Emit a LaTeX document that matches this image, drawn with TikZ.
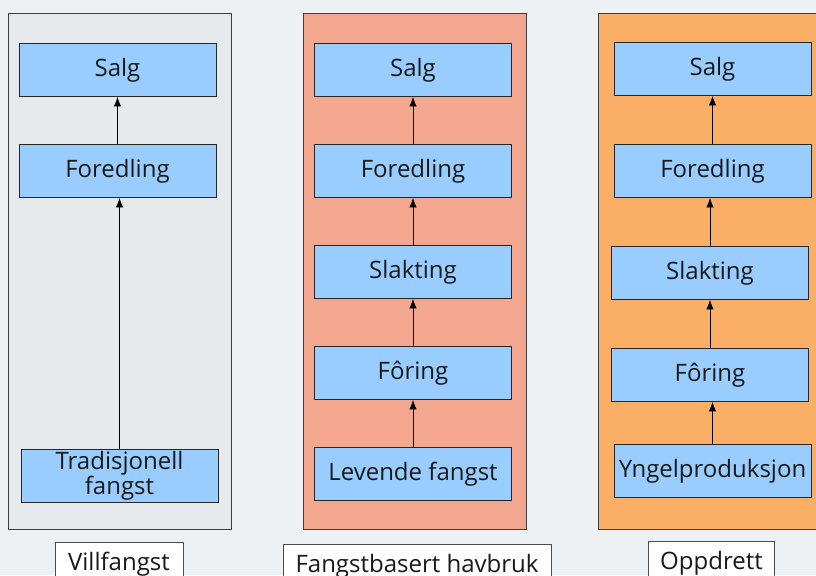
\documentclass[tikz,border=0pt]{standalone}
\usepackage{fontspec}
\setmainfont{Open Sans}
\usetikzlibrary{shapes,arrows.meta}
\definecolor{bakgrunn}{HTML}{EDF1F3}
\definecolor{villgraa}{HTML}{E6EAED}
\definecolor{laks}{HTML}{F4A78F}
\definecolor{oransje}{HTML}{FBAE66}
\definecolor{blaa}{HTML}{99CCFF}
\newcommand{\ledd}[3] {\node at (#1) (#2) [ledd] {#3};}
\newcommand{\pil}[2] {\draw [-{Latex[length=7pt,width=5.5pt]}] (#1.north) -- (#1.north |- #2.south);}
\newcommand{\feltnavn}[4] {\node at (#1) (#2) [feltnavn, minimum width=#3] {#4};}

\begin{document}
\begin{tikzpicture}[x=0.75pt,y=-0.75pt,
  ledd/.style={rectangle, draw=black!85, fill=blaa, line width=0.75pt,
    minimum width=147.75pt, minimum height=39.75pt, inner sep=0pt,
    align=center, text=black!90, font=\fontsize{18}{17}\selectfont},
  feltnavn/.style={rectangle, draw=black!70, fill=white, line width=0.6pt,
    minimum height=33pt, inner sep=0pt, text=black!90,
    font=\fontsize{18}{17}\selectfont},
  felt/.style={draw=black!75, line width=0.75pt}]

\useasboundingbox (0,0) rectangle (816,575);
\clip (0,0) rectangle (816,575);
\fill [bakgrunn] (0,0) rectangle (816,575);

% felt
\draw [felt, fill=villgraa] (8,13) rectangle (231,529);
\draw [felt, fill=laks] (303,13) rectangle (526,529);
\draw [felt, fill=oransje] (598,13) rectangle (840,529);

% villfangst
\ledd {117.5,70} {vsalg} {Salg};
\ledd {117.5,171} {vfored} {Foredling};
\ledd {119.5,476} {vtrad} {Tradisjonell\\fangst};

\pil{vtrad}{vfored};
\pil{vfored}{vsalg};

% fangstbasert havbruk
\ledd {413,70} {hsalg} {Salg};
\ledd {413,171} {hfored} {Foredling};
\ledd {413,272} {hslakt} {Slakting};
\ledd {413,373} {hfor} {Fôring};
\ledd {413,474} {hlev} {Levende fangst};

\pil{hlev}{hfor};
\pil{hfor}{hslakt};
\pil{hslakt}{hfored};
\pil{hfored}{hsalg};

% oppdrett
\ledd {712.5,69} {osalg} {Salg};
\ledd {712.5,171} {ofored} {Foredling};
\ledd {710,273} {oslakt} {Slakting};
\ledd {710,375} {ofor} {Fôring};
\ledd {712.5,471} {oyngel} {Yngelproduksjon};

\pil{oyngel}{ofor};
\pil{ofor}{oslakt};
\pil{oslakt}{ofored};
\pil{ofored}{osalg};

% navn
\feltnavn {119,564} {nvill} {96pt} {Villfangst};
\feltnavn {417,566} {nhav} {201pt} {Fangstbasert havbruk};
\feltnavn {711.5,563} {nopp} {95pt} {Oppdrett};

\end{tikzpicture}
\end{document}
